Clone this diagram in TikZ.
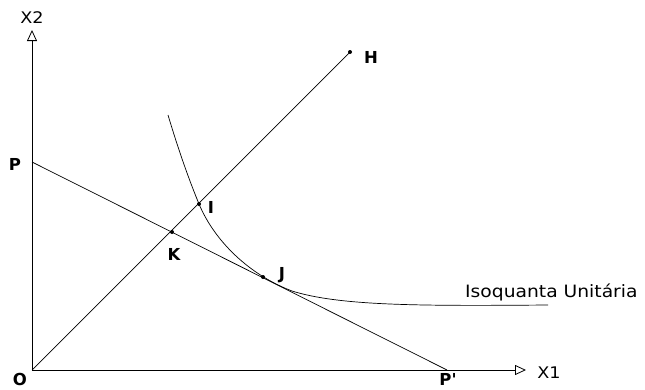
\documentclass[tikz,border=0pt]{standalone}
\usepackage{fontspec}
\setmainfont{DejaVu Sans}[Ligatures=TeXOff]
\usetikzlibrary{arrows.meta}
\begin{document}
\begin{tikzpicture}[x=1pt,y=-1pt,
  ln/.style={line width=0.7pt, black},
  ax/.style={line width=0.8pt, black, -{Triangle[open,length=11pt,width=10pt]}},
  dot/.style={circle, fill=black, inner sep=0pt, minimum size=4pt},
  lbl/.style={font=\fontsize{16.5}{18}\selectfont\bfseries, inner sep=0pt},
  axl/.style={font=\fontsize{16}{18}\selectfont, inner sep=0pt, xscale=1.1}]
\useasboundingbox (0,0) rectangle (645,389);
\coordinate (O) at (32,370);
\coordinate (Ytip) at (32,30);
\coordinate (Xtip) at (526,370);
\coordinate (P) at (32,162);
\coordinate (Pp) at (447,370);
\coordinate (Hc) at (350,52);
\draw[ax] (O) -- (Ytip);
\draw[ax] (O) -- (Xtip);
\draw[ln] (P) -- (Pp);
\draw[ln] (O) -- (Hc);
\draw[ln] (168,115) .. controls (180,155) and (190,182) .. (199,204)
  .. controls (215,242) and (250,275) .. (292,291)
  .. controls (340,306) and (420,306) .. (548,305);
\node[dot] (H) at (Hc) {};
\node[dot] (I) at (199,204) {};
\node[dot] (K) at (172,232) {};
\node[dot] (J) at (263,277) {};
\node[axl] (X2) at (32,18) {X2};
\node[axl] (X1) at (549,373) {X1};
\node[lbl, anchor=base] (Ol) at (20,385) {O};
\node[lbl, anchor=base] (Pl) at (15,170) {P};
\node[lbl, anchor=base] (Ppl) at (448,385) {P'};
\node[lbl] (Kl) at (174,254) {K};
\node[lbl] (Il) at (211,207) {I};
\node[lbl] (Jl) at (282,275) {J};
\node[lbl] (Hl) at (371,57) {H};
\node[font=\fontsize{17}{19}\selectfont, inner sep=0pt, anchor=west, xscale=1.1] (iso) at (465,292) {Isoquanta Unitária};
\end{tikzpicture}
\end{document}
